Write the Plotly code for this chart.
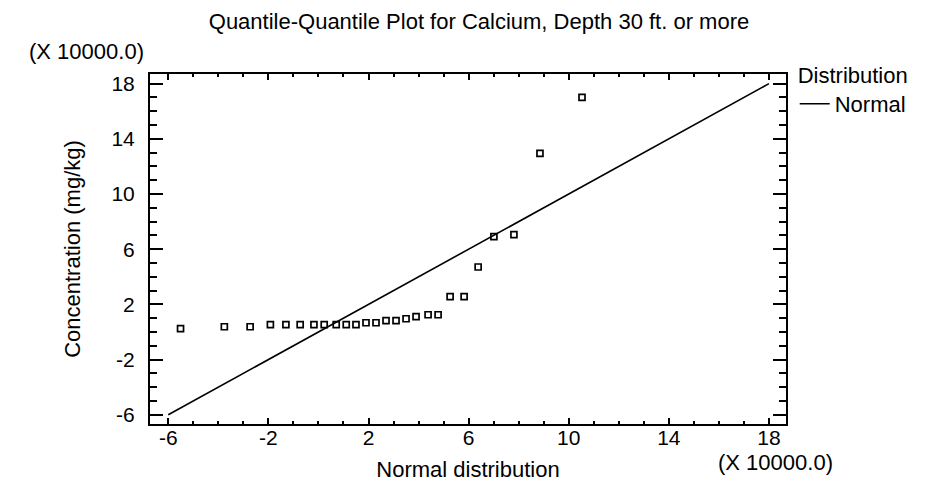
import plotly.graph_objects as go

# Data (values in units of 10000)
normal_quantiles = [-5.51, -3.76, -2.73, -1.92, -1.30, -0.73, -0.18, 0.23, 0.71, 1.11,
                    1.50, 1.90, 2.30, 2.70, 3.10, 3.50, 3.90, 4.38, 4.78, 5.26,
                    5.82, 6.38, 7.01, 7.81, 8.85, 10.53]
concentration = [0.24, 0.38, 0.38, 0.53, 0.53, 0.53, 0.53, 0.53, 0.53, 0.53,
                 0.53, 0.67, 0.67, 0.82, 0.82, 0.96, 1.11, 1.25, 1.25, 2.56,
                 2.56, 4.71, 6.91, 7.05, 12.95, 17.0]
ref_line_x = [-6, 18]
ref_line_y = [-6, 18]
tick_vals = [-6, -2, 2, 6, 10, 14, 18]
tick_text = ["-6", "-2", "2", "6", "10", "14", "18"]

FONT = "Liberation Sans, Arial, sans-serif"

fig = go.Figure()
fig.add_trace(go.Scatter(
    x=normal_quantiles, y=concentration, mode="markers",
    marker=dict(symbol="square-open", size=6, color="black", line=dict(width=1.7, color="black")),
    showlegend=False, hoverinfo="x+y"))
fig.add_trace(go.Scatter(
    x=ref_line_x, y=ref_line_y, mode="lines",
    line=dict(color="black", width=1.6), name="Normal"))

axis_common = dict(
    tickvals=tick_vals, ticktext=tick_text,
    showline=True, linewidth=2, linecolor="black", mirror="allticks",
    ticks="inside", tickcolor="black", tickwidth=2,
    showgrid=False, zeroline=False,
    tickfont=dict(family=FONT, size=21, color="black"),
)

fig.update_xaxes(range=[-6.73, 18.68], ticklen=6,
                 minor=dict(dtick=1, tick0=0, ticks="inside", ticklen=3, tickwidth=2, tickcolor="black", showgrid=False),
                 title=dict(text="Normal distribution", font=dict(family=FONT, size=22, color="black"), standoff=13),
                 ticklabelstandoff=-6,
                 **axis_common)
fig.update_yaxes(range=[-6.67, 18.70], ticklen=13,
                 minor=dict(dtick=1, tick0=0, ticks="inside", ticklen=7, tickwidth=2, tickcolor="black", showgrid=False),
                 title=dict(text="Concentration (mg/kg)", font=dict(family=FONT, size=22, color="black"), standoff=25),
                 ticklabelstandoff=9,
                 **axis_common)

fig.update_layout(
    width=942, height=489,
    margin=dict(l=141.7, r=163.7, t=66, b=73, autoexpand=False),
    paper_bgcolor="white", plot_bgcolor="white",
    title=dict(text="Quantile-Quantile Plot for Calcium, Depth 30 ft. or more",
               x=0.5, xanchor="center", y=1 - 13 / 489, yanchor="middle", yref="container",
               font=dict(family=FONT, size=22, color="black")),
    font=dict(family=FONT, size=22, color="black"),
    legend=dict(x=1.0137, y=1.056, xanchor="left", yanchor="top",
                title=dict(text="Distribution", side="top center", font=dict(family=FONT, size=22)),
                font=dict(family=FONT, size=22), bgcolor="rgba(0,0,0,0)",
                itemwidth=30, tracegroupgap=0),
    annotations=[
        dict(text="(X 10000.0)", xref="paper", yref="paper", x=-0.006, y=1.065,
             xanchor="right", yanchor="middle", showarrow=False,
             font=dict(family=FONT, size=22, color="black")),
        dict(text="(X 10000.0)", xref="paper", yref="paper", x=0.983, y=-0.11,
             xanchor="center", yanchor="middle", showarrow=False,
             font=dict(family=FONT, size=22, color="black")),
    ],
)

fig.write_html("out.html")
